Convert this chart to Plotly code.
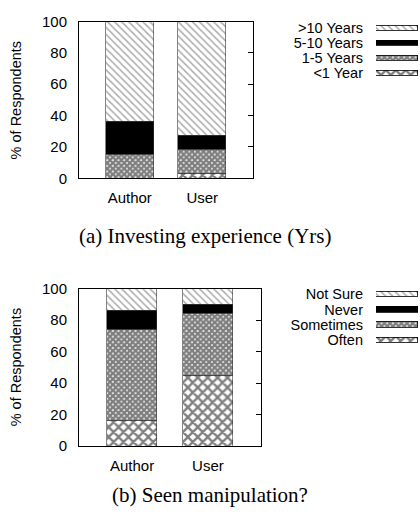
import plotly.graph_objects as go

# ---------------- data ----------------
groups = ["Author", "User"]

# (a) Investing experience (% of respondents)
exp_labels = [">10 Years", "5-10 Years", "1-5 Years", "<1 Year"]
exp_lt1 = [0, 3]
exp_1_5 = [15, 15]
exp_5_10 = [21, 9]
exp_gt10 = [64, 73]

# (b) Seen manipulation? (% of respondents)
man_labels = ["Not Sure", "Never", "Sometimes", "Often"]
man_often = [16, 45]
man_sometimes = [58, 39]
man_never = [12, 6]
man_notsure = [14, 10]

yticks = [0, 20, 40, 60, 80, 100]
caption_a = "(a) Investing experience (Yrs)"
caption_b = "(b) Seen manipulation?"
ytitle = "% of Respondents"

W, H = 420, 518
SANS = "Liberation Sans, Arial, Helvetica, sans-serif"
SERIF = "Liberation Serif, Times New Roman, serif"

# pattern styles (top of stack -> bottom)
STY_DIAG = dict(shape="\\", fgcolor="#5a5a5a", bgcolor="white", size=5, solidity=0.3)
STY_SOLID = dict(shape="", fgcolor="black", bgcolor="black")
STY_DENSE = dict(shape="x", fgcolor="black", bgcolor="white", size=4, solidity=0.85)
STY_CROSS = dict(shape="x", fgcolor="black", bgcolor="white", size=7, solidity=0.55)
styles = [STY_DIAG, STY_SOLID, STY_DENSE, STY_CROSS]


def px_x(p):
    return p / W


def px_y(p):
    return 1 - p / H


fig = go.Figure()


def add_stack(values_bottom_up, styles_bottom_up, xa, ya):
    for vals, sty in zip(values_bottom_up, styles_bottom_up):
        fig.add_trace(go.Bar(
            x=groups, y=vals, xaxis=xa, yaxis=ya, width=0.66,
            marker=dict(color="white" if sty["shape"] else "black",
                        pattern=sty,
                        line=dict(color="#333333", width=0.6)),
            showlegend=False, hoverinfo="skip"))


add_stack([exp_lt1, exp_1_5, exp_5_10, exp_gt10], styles[::-1], "x", "y")
add_stack([man_often, man_sometimes, man_never, man_notsure], styles[::-1], "x2", "y2")


def add_legend(labels, xa, ya):
    for lab, sty in zip(labels, styles):
        fig.add_trace(go.Bar(
            x=[1], y=[lab], orientation="h", xaxis=xa, yaxis=ya, width=0.36,
            marker=dict(color="white" if sty["shape"] else "black",
                        pattern=sty,
                        line=dict(color="black", width=0.8)),
            showlegend=False, hoverinfo="skip"))


add_legend(exp_labels, "x5", "y5")
add_legend(man_labels, "x6", "y6")

axis_common = dict(showgrid=False, zeroline=False, showline=True, linecolor="black",
                   linewidth=1, mirror=True)
yax = dict(axis_common, range=[0, 100], tickvals=yticks, ticks="",
           tickfont=dict(family=SANS, size=15, color="black"), ticklabelstandoff=8)
xax = dict(axis_common, range=[-0.7, 1.7], ticks="",
           tickfont=dict(family=SANS, size=15, color="black"), ticklabelstandoff=6)
right_ticks = dict(range=[0, 100], tickvals=[20, 40, 60, 80], ticks="inside", ticklen=5,
                   tickcolor="black", showticklabels=False, showgrid=False, zeroline=False,
                   showline=False, side="right")

legend_x = dict(range=[0, 1], showgrid=False, zeroline=False, showline=False,
                showticklabels=False, ticks="", fixedrange=True)


def legend_y(labels, dom):
    return dict(showgrid=False, zeroline=False, showline=False, ticks="",
                autorange="reversed", ticklabelstandoff=12,
                tickmode="array", tickvals=labels, ticktext=labels,
                tickfont=dict(family=SANS, size=14.5, color="black"), domain=dom)


fig.update_layout(
    width=W, height=H, margin=dict(l=0, r=0, t=0, b=0),
    paper_bgcolor="white", plot_bgcolor="white", barmode="stack", bargap=0,
    showlegend=False,
    xaxis=dict(xax, domain=[px_x(79), px_x(253)], anchor="y"),
    yaxis=dict(yax, domain=[px_y(175), px_y(13)], anchor="x"),
    xaxis2=dict(xax, domain=[px_x(79), px_x(261)], anchor="y2"),
    yaxis2=dict(yax, domain=[px_y(452), px_y(289)], anchor="x2"),
    yaxis3=dict(right_ticks, overlaying="y", anchor="x"),
    yaxis4=dict(right_ticks, overlaying="y2", anchor="x2"),
    xaxis5=dict(legend_x, domain=[px_x(376), px_x(418)], anchor="y5"),
    yaxis5=dict(legend_y(exp_labels, [px_y(74), px_y(12)]), anchor="x5"),
    xaxis6=dict(legend_x, domain=[px_x(376), px_x(418)], anchor="y6"),
    yaxis6=dict(legend_y(man_labels, [px_y(350), px_y(287)]), anchor="x6"),
)

# dummy traces so the right-tick axes are rendered
fig.add_trace(go.Scatter(x=[None], y=[None], xaxis="x", yaxis="y3", showlegend=False))
fig.add_trace(go.Scatter(x=[None], y=[None], xaxis="x2", yaxis="y4", showlegend=False))

annos = [
    dict(text=ytitle, x=px_x(15.5), y=px_y(94), textangle=-90,
         font=dict(family=SANS, size=14.5, color="black")),
    dict(text=ytitle, x=px_x(15.5), y=px_y(370), textangle=-90,
         font=dict(family=SANS, size=14.5, color="black")),
    dict(text=caption_a, x=px_x(205), y=px_y(235),
         font=dict(family=SERIF, size=21, color="black")),
    dict(text=caption_b, x=px_x(210), y=px_y(502),
         font=dict(family=SERIF, size=21, color="black")),
]
for a in annos:
    fig.add_annotation(xref="paper", yref="paper", showarrow=False,
                       xanchor="center", yanchor="middle", **a)

fig.write_html("out.html", config=dict(displayModeBar=False),
               post_script="document.body.style.margin='0';"
                           "document.body.style.overflow='hidden';")
